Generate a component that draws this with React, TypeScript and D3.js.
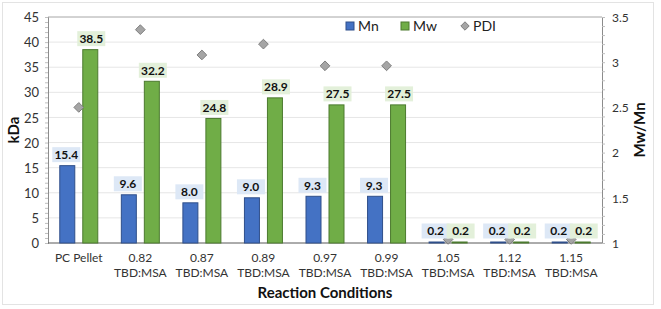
import { useEffect, useRef } from "react";
import * as d3 from "d3";

const categories = [
  ["PC Pellet"],
  ["0.82", "TBD:MSA"],
  ["0.87", "TBD:MSA"],
  ["0.89", "TBD:MSA"],
  ["0.97", "TBD:MSA"],
  ["0.99", "TBD:MSA"],
  ["1.05", "TBD:MSA"],
  ["1.12", "TBD:MSA"],
  ["1.15", "TBD:MSA"],
];
const mnValues = [15.4, 9.6, 8.0, 9.0, 9.3, 9.3, 0.2, 0.2, 0.2];
const mwValues = [38.5, 32.2, 24.8, 28.9, 27.5, 27.5, 0.2, 0.2, 0.2];
const pdiValues = [2.5, 3.36, 3.08, 3.2, 2.96, 2.96, 1.04, 1.04, 1.04];
const leftTicks = [0, 5, 10, 15, 20, 25, 30, 35, 40, 45];
const rightTicks = [1, 1.5, 2, 2.5, 3, 3.5];

const W = 661;
const H = 309;
const FONT = "Lato, 'Liberation Sans', sans-serif";

export default function App() {
  const ref = useRef<SVGSVGElement | null>(null);

  useEffect(() => {
    document.body.style.margin = "0";
    if (!ref.current) return;
    const svg = d3.select(ref.current);
    svg.selectAll("*").remove();

    const margin = { top: 17, right: 59, bottom: 66, left: 48 };
    const x0 = margin.left;
    const x1 = W - margin.right;
    const yTop = margin.top;
    const yBot = H - margin.bottom;

    svg
      .append("rect")
      .attr("x", 2.5)
      .attr("y", 2.5)
      .attr("width", 651)
      .attr("height", 302)
      .attr("fill", "#fff")
      .attr("stroke", "#e3e3e3");

    const x = d3
      .scaleBand<number>()
      .domain(d3.range(categories.length))
      .range([x0, x1]);
    const y = d3.scaleLinear().domain([0, 45]).range([yBot, yTop]);
    const y2 = d3.scaleLinear().domain([1, 3.5]).range([yBot, yTop]);

    // gridlines
    svg
      .append("g")
      .selectAll("line")
      .data(leftTicks.slice(1))
      .join("line")
      .attr("x1", x0)
      .attr("x2", x1)
      .attr("y1", (d) => y(d))
      .attr("y2", (d) => y(d))
      .attr("stroke", (d) => (d === 45 ? "#a6a6a6" : "#e6e6e6"))
      .attr("stroke-width", 1);

    // left axis
    const gl = svg.append("g").attr("transform", `translate(${x0},0)`);
    gl.call(
      d3
        .axisLeft(y)
        .tickValues(d3.range(0, 46, 1))
        .tickSize(3)
        .tickFormat(() => "")
    );
    gl.call((g) => g.selectAll(".tick line").attr("stroke", "#bfbfbf"));
    gl.select(".domain").attr("stroke", "#8c8c8c");
    gl.selectAll(".tick")
      .filter((d: any) => leftTicks.includes(d))
      .append("text")
      .attr("x", -9)
      .attr("dy", "0.35em")
      .attr("text-anchor", "end")
      .attr("fill", "#333")
      .attr("font-size", 13)
      .attr("font-family", FONT)
      .text((d: any) => d);

    // right axis
    const gr = svg.append("g").attr("transform", `translate(${x1},0)`);
    gr.call(
      d3
        .axisRight(y2)
        .tickValues(d3.range(10, 36, 1).map((v) => v / 10))
        .tickSize(3)
        .tickFormat(() => "")
    );
    gr.call((g) => g.selectAll(".tick line").attr("stroke", "#bfbfbf"));
    gr.select(".domain").attr("stroke", "#8c8c8c");
    gr.selectAll(".tick")
      .filter((d: any) => rightTicks.some((t) => Math.abs(t - d) < 1e-6))
      .append("text")
      .attr("x", 10)
      .attr("dy", "0.35em")
      .attr("fill", "#333")
      .attr("font-size", 12)
      .attr("font-family", FONT)
      .text((d: any) => String(Math.round(d * 10) / 10));

    // bottom axis line
    svg
      .append("line")
      .attr("x1", x0)
      .attr("x2", x1)
      .attr("y1", yBot)
      .attr("y2", yBot)
      .attr("stroke", "#595959");

    const barW = 15;
    const gap = 8;
    const cx = (i: number) => (x(i) ?? 0) + x.bandwidth() / 2;

    // bars
    svg
      .append("g")
      .selectAll("rect")
      .data(mnValues)
      .join("rect")
      .attr("x", (_, i) => cx(i) - gap / 2 - barW)
      .attr("y", (d) => y(d))
      .attr("width", barW)
      .attr("height", (d) => yBot - y(d))
      .attr("fill", "#4472c4")
      .attr("stroke", "#2f4f8a")
      .attr("stroke-width", 1);
    svg
      .append("g")
      .selectAll("rect")
      .data(mwValues)
      .join("rect")
      .attr("x", (_, i) => cx(i) + gap / 2)
      .attr("y", (d) => y(d))
      .attr("width", barW)
      .attr("height", (d) => yBot - y(d))
      .attr("fill", "#70ad47")
      .attr("stroke", "#4c7a2f")
      .attr("stroke-width", 1);

    // PDI markers
    const diamond = d3.symbol().type(d3.symbolDiamond2).size(60);
    svg
      .append("g")
      .selectAll("path")
      .data(pdiValues)
      .join("path")
      .attr("d", diamond)
      .attr("transform", (d, i) => `translate(${cx(i)},${y2(d)})`)
      .attr("fill", "#a5a5a5")
      .attr("stroke", "#7f7f7f");

    // data labels
    const label = (
      vals: number[],
      off: number,
      bg: string
    ) => {
      const g = svg.append("g");
      vals.forEach((v, i) => {
        const lx = cx(i) + off;
        const ly = y(v) - 11;
        const w = 28;
        const h = 15;
        g.append("rect")
          .attr("x", lx - w / 2)
          .attr("y", ly - h / 2)
          .attr("width", w)
          .attr("height", h)
          .attr("fill", bg);
        g.append("text")
          .attr("x", lx)
          .attr("y", ly)
          .attr("dy", "0.36em")
          .attr("text-anchor", "middle")
          .attr("font-size", 12)
          .attr("font-weight", "bold")
          .attr("font-family", FONT)
          .attr("fill", "#111")
          .text(v.toFixed(1));
      });
    };
    label(mnValues, -gap / 2 - barW / 2 - 1, "#dde8f6");
    label(mwValues, gap / 2 + barW / 2 + 1, "#e3f0da");

    // category labels
    const cg = svg.append("g");
    categories.forEach((lines, i) => {
      const t = cg
        .append("text")
        .attr("text-anchor", "middle")
        .attr("font-size", 12)
        .attr("font-family", FONT)
        .attr("fill", "#333");
      lines.forEach((ln, j) => {
        t.append("tspan")
          .attr("x", cx(i))
          .attr("y", yBot + 19 + j * 15)
          .text(ln);
      });
    });

    // axis titles
    svg
      .append("text")
      .attr("transform", `translate(19,${(yTop + yBot) / 2}) rotate(-90)`)
      .attr("text-anchor", "middle")
      .attr("font-size", 15)
      .attr("font-weight", "bold")
      .attr("font-family", FONT)
      .attr("fill", "#111")
      .text("kDa");
    svg
      .append("text")
      .attr("transform", `translate(645,${(yTop + yBot) / 2}) rotate(-90)`)
      .attr("text-anchor", "middle")
      .attr("font-size", 15)
      .attr("font-weight", "bold")
      .attr("font-family", FONT)
      .attr("fill", "#111")
      .text("Mw/Mn");
    svg
      .append("text")
      .attr("x", 325)
      .attr("y", 298)
      .attr("text-anchor", "middle")
      .attr("font-size", 15)
      .attr("font-weight", "bold")
      .attr("font-family", FONT)
      .attr("fill", "#111")
      .text("Reaction Conditions");

    // legend
    const lg = svg.append("g").attr("font-family", FONT).attr("font-size", 14);
    const legendItems = [
      { name: "Mn", x: 350, fill: "#4472c4", stroke: "#2f4f8a", kind: "rect" },
      { name: "Mw", x: 405, fill: "#70ad47", stroke: "#4c7a2f", kind: "rect" },
      { name: "PDI", x: 465, fill: "#a5a5a5", stroke: "#7f7f7f", kind: "diamond" },
    ];
    legendItems.forEach((it) => {
      if (it.kind === "rect") {
        lg.append("rect")
          .attr("x", it.x - 4)
          .attr("y", 22)
          .attr("width", 8)
          .attr("height", 8)
          .attr("fill", it.fill)
          .attr("stroke", it.stroke);
      } else {
        lg.append("path")
          .attr("d", d3.symbol().type(d3.symbolDiamond2).size(45)())
          .attr("transform", `translate(${it.x},26)`)
          .attr("fill", it.fill)
          .attr("stroke", it.stroke);
      }
      lg.append("text")
        .attr("x", it.x + 8)
        .attr("y", 26)
        .attr("dy", "0.36em")
        .attr("fill", "#222")
        .text(it.name);
    });
  }, []);

  return <svg ref={ref} width={W} height={H} style={{ display: "block" }} />;
}
